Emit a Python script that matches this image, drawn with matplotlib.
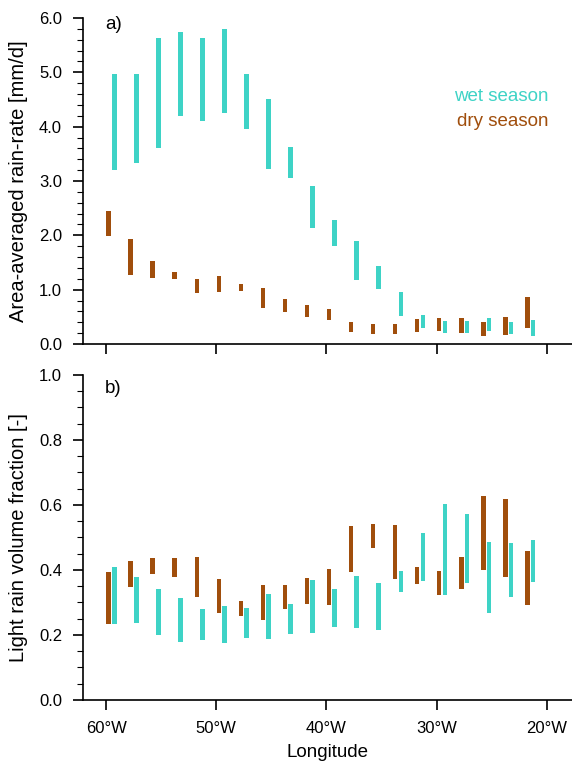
import numpy as np
import matplotlib.pyplot as plt
from matplotlib.ticker import MultipleLocator, FuncFormatter

plt.rcParams['font.family'] = ['Liberation Sans', 'DejaVu Sans']

# bin centres (deg E, negative = west)
lon = [-59.5, -57.5, -55.5, -53.5, -51.5, -49.5, -47.5, -45.5, -43.5, -41.5,
       -39.5, -37.5, -35.5, -33.5, -31.5, -29.5, -27.5, -25.5, -23.5, -21.5]

# a) area-averaged rain rate [mm/d], range (low, high)
wet_rr_lo = [3.20, 3.34, 3.60, 4.20, 4.11, 4.26, 3.96, 3.22, 3.06, 2.14,
             1.81, 1.17, 1.01, 0.52, 0.29, 0.20, 0.20, 0.23, 0.18, 0.15]
wet_rr_hi = [4.97, 4.96, 5.63, 5.75, 5.64, 5.80, 4.97, 4.51, 3.62, 2.91,
             2.28, 1.90, 1.44, 0.96, 0.54, 0.43, 0.43, 0.48, 0.40, 0.44]
dry_rr_lo = [1.99, 1.27, 1.22, 1.19, 0.93, 0.95, 0.98, 0.67, 0.59, 0.50,
             0.44, 0.22, 0.18, 0.18, 0.22, 0.24, 0.21, 0.15, 0.17, 0.29]
dry_rr_hi = [2.45, 1.93, 1.53, 1.32, 1.19, 1.26, 1.10, 1.03, 0.83, 0.71,
             0.64, 0.41, 0.36, 0.36, 0.46, 0.48, 0.47, 0.41, 0.50, 0.87]

# b) light rain volume fraction, range (low, high)
wet_lf_lo = [0.235, 0.236, 0.201, 0.178, 0.184, 0.175, 0.192, 0.188, 0.202, 0.206,
             0.225, 0.220, 0.214, 0.331, 0.367, 0.324, 0.360, 0.267, 0.316, 0.362]
wet_lf_hi = [0.410, 0.378, 0.343, 0.315, 0.281, 0.289, 0.283, 0.327, 0.295, 0.368,
             0.343, 0.381, 0.360, 0.397, 0.514, 0.603, 0.573, 0.487, 0.483, 0.492]
dry_lf_lo = [0.233, 0.349, 0.388, 0.379, 0.317, 0.269, 0.258, 0.245, 0.280, 0.294,
             0.293, 0.395, 0.469, 0.371, 0.356, 0.323, 0.343, 0.400, 0.378, 0.293]
dry_lf_hi = [0.393, 0.427, 0.437, 0.437, 0.440, 0.373, 0.306, 0.353, 0.353, 0.376,
             0.403, 0.534, 0.542, 0.539, 0.409, 0.396, 0.440, 0.629, 0.617, 0.459]

wet_col = '#3ED3C6'
dry_col = '#A04E0C'

lon = np.array(lon)
off = 0.26
bw = 0.42

fig = plt.figure(figsize=(5.72, 7.62), dpi=100)
axa = fig.add_axes([0.145, 0.5486, 0.855, 0.4278])
axb = fig.add_axes([0.145, 0.0814, 0.855, 0.4265])


def lonfmt(x, pos):
    return '%d°W' % abs(round(x))


def rangebars(ax, lo, hi, dx, col):
    lo = np.array(lo)
    hi = np.array(hi)
    ax.bar(lon + dx, hi - lo, bottom=lo, width=bw, color=col, edgecolor='none')


rangebars(axa, dry_rr_lo, dry_rr_hi, -off, dry_col)
rangebars(axa, wet_rr_lo, wet_rr_hi, off, wet_col)
rangebars(axb, dry_lf_lo, dry_lf_hi, -off, dry_col)
rangebars(axb, wet_lf_lo, wet_lf_hi, off, wet_col)

for ax in (axa, axb):
    ax.set_xlim(-62.1, -17.7)
    ax.spines['top'].set_visible(False)
    ax.spines['right'].set_visible(False)
    ax.xaxis.set_major_locator(MultipleLocator(10))
    ax.xaxis.set_major_formatter(FuncFormatter(lonfmt))
    ax.tick_params(which='major', direction='out', length=7, width=1.2, labelsize=12, pad=8)
    ax.tick_params(which='minor', direction='out', length=4, width=0.8)
    ax.yaxis.set_major_formatter(FuncFormatter(lambda v, p: '%.1f' % v))
    for s in ('left', 'bottom'):
        ax.spines[s].set_linewidth(1.2)

axa.set_ylim(0, 6)
axa.yaxis.set_major_locator(MultipleLocator(1))
axa.yaxis.set_minor_locator(MultipleLocator(0.2))
axa.tick_params(axis='x', labelbottom=False)
axa.set_ylabel('Area-averaged rain-rate [mm/d]', fontsize=14.5, labelpad=8)
axa.text(0.045, 1.005, 'a)', transform=axa.transAxes, fontsize=13.5, va='top')
axa.text(0.951, 0.758, 'wet season', transform=axa.transAxes, fontsize=13.5,
         color=wet_col, ha='right', va='center')
axa.text(0.951, 0.682, 'dry season', transform=axa.transAxes, fontsize=13.5,
         color=dry_col, ha='right', va='center')

axb.set_ylim(0, 1)
axb.yaxis.set_major_locator(MultipleLocator(0.2))
axb.yaxis.set_minor_locator(MultipleLocator(0.05))
axb.set_ylabel('Light rain volume fraction [-]', fontsize=14.5, labelpad=8)
axb.set_xlabel('Longitude', fontsize=13.5, labelpad=6)
axb.text(0.045, 0.985, 'b)', transform=axb.transAxes, fontsize=13.5, va='top')

fig.savefig('out.png', dpi=100)
